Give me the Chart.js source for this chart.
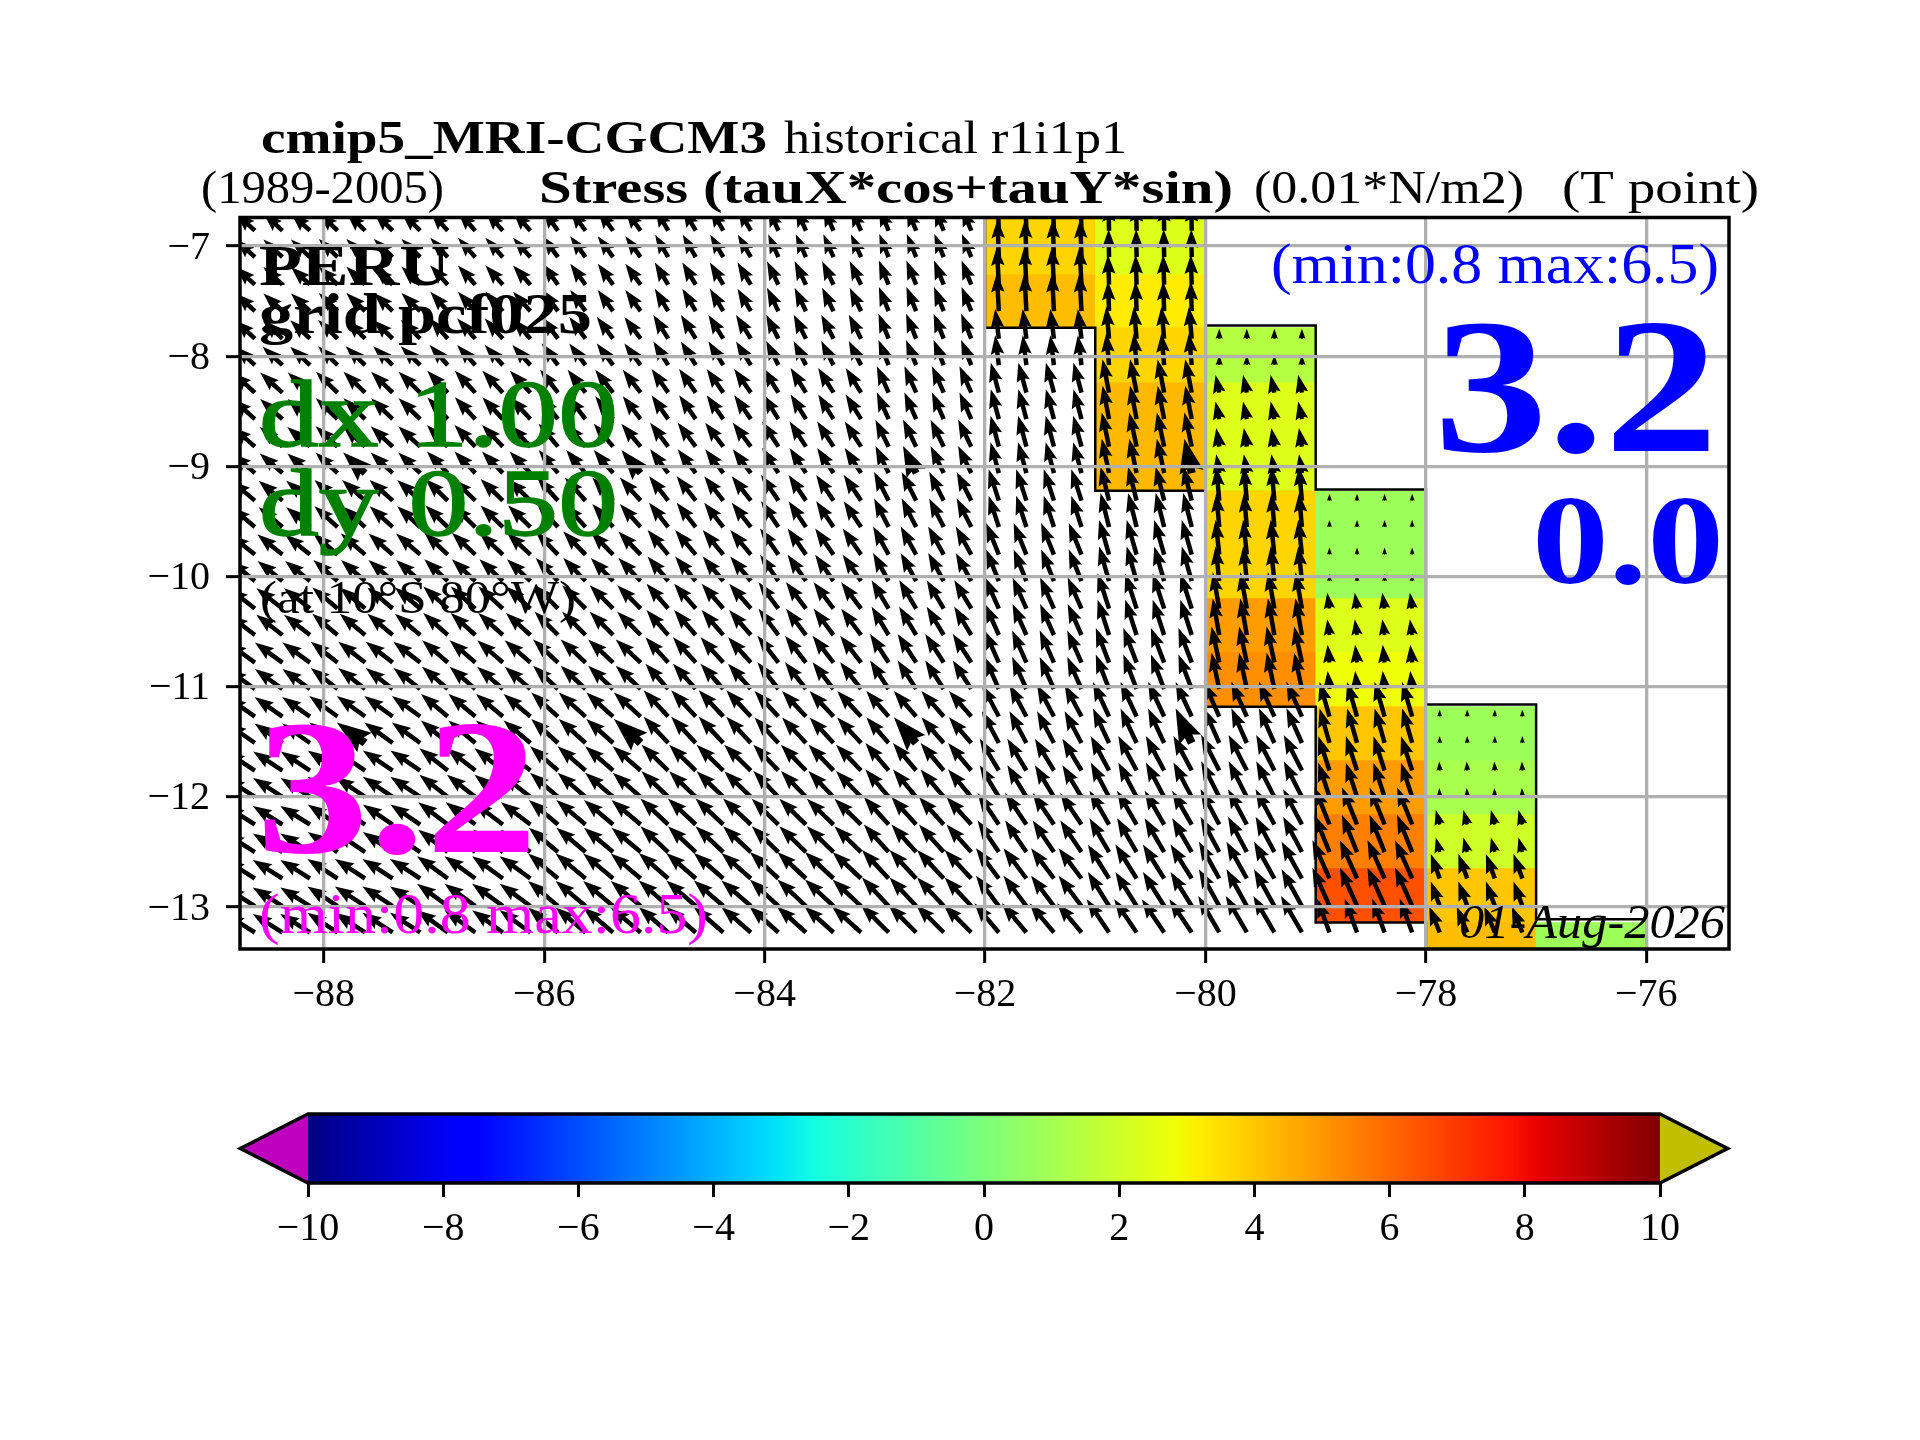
<!DOCTYPE html>
<html>
<head>
<meta charset="utf-8">
<title>Stress PERU</title>
<script src="https://cdn.jsdelivr.net/npm/chart.js@4"></script>
<style>
  body { margin: 0; background: #fff; }
  canvas { position: absolute; left: 0; top: 0; }
</style>
</head>
<body>
<canvas id="mapChart" width="1920" height="1440"></canvas>
<canvas id="barChart" width="1920" height="1440"></canvas>
<script>
// model cells: 1 deg wide, about 0.5 deg high
const lonEdges = [-89, -88, -87, -86, -85, -84, -83, -82, -81, -80, -79, -78, -77, -76];
const latEdges = [-6.7, -7.26, -7.74, -8.24, -8.73, -9.22, -9.71, -10.2, -10.69, -11.18, -11.67, -12.16, -12.65, -13.14, -13.63];

// coloured cells, read against the colour bar (rows north to south, columns west to east)
const n = null;
const cellValues = [
  [n, n, n, n, n, n, n, 3.7, 2.4, n, n, n, n],
  [n, n, n, n, n, n, n, 4.2, 3.2, n, n, n, n],
  [n, n, n, n, n, n, n, n, 3.7, 1.4, n, n, n],
  [n, n, n, n, n, n, n, n, 4.3, 2.4, n, n, n],
  [n, n, n, n, n, n, n, n, 4.3, 2.4, n, n, n],
  [n, n, n, n, n, n, n, n, n, 3.7, 0.8, n, n],
  [n, n, n, n, n, n, n, n, n, 3.7, 0.8, n, n],
  [n, n, n, n, n, n, n, n, n, 4.9, 2.4, n, n],
  [n, n, n, n, n, n, n, n, n, 5.2, 2.8, n, n],
  [n, n, n, n, n, n, n, n, n, n, 4.0, 0.8, n],
  [n, n, n, n, n, n, n, n, n, n, 4.9, 1.1, n],
  [n, n, n, n, n, n, n, n, n, n, 5.5, 2.0, n],
  [n, n, n, n, n, n, n, n, n, n, 6.5, 4.0, n],
  [n, n, n, n, n, n, n, n, n, n, n, 4.2, 0.8]
];

// stress direction, degrees west of north, same layout
const stressTilt = [
  [47, 46, 42, 36, 30, 24, 22, 2, 1, n, n, n, n],
  [47, 46, 42, 36, 31, 26, 22, 3, 2, n, n, n, n],
  [47, 46, 42, 37, 32, 27, 22, 7, 5, 0, n, n, n],
  [48, 46, 43, 38, 35, 32, 24, 15, 11, 12, n, n, n],
  [49, 47, 44, 40, 37, 33, 26, 15, 12, 9, n, n, n],
  [50, 48, 46, 42, 38, 34, 27, 18, 14, 5, 0, n, n],
  [51, 49, 47, 44, 40, 35, 29, 22, 16, 6, 0, n, n],
  [52, 50, 48, 45, 41, 37, 31, 24, 18, 10, 8, n, n],
  [54, 52, 49, 47, 42, 38, 33, 24, 21, 12, 6, n, n],
  [55, 54, 50, 48, 43, 43, 41, 28, 25, 24, 16, 0, n],
  [57, 56, 52, 49, 46, 44, 40, 31, 28, 27, 18, 3, n],
  [58, 56, 53, 50, 47, 46, 42, 34, 30, 28, 22, 15, n],
  [58, 57, 54, 50, 49, 47, 43, 37, 32, 29, 24, 20, n],
  [58, 57, 54, 50, 49, 48, 45, 40, 34, 30, 20, 22, n]
];

// stress magnitude, same layout
const stressMag = [
  [2.6, 2.6, 2.6, 2.6, 2.6, 2.5, 2.5, 3.8, 2.8, n, n, n, n],
  [2.6, 2.6, 2.6, 2.6, 2.6, 2.6, 2.6, 3.8, 3.0, n, n, n, n],
  [2.7, 2.7, 2.7, 2.7, 2.8, 2.7, 2.7, 3.0, 3.2, 1.0, n, n, n],
  [3.0, 3.0, 3.0, 2.9, 2.9, 2.9, 2.9, 3.1, 3.4, 1.8, n, n, n],
  [3.0, 3.0, 3.0, 3.0, 3.0, 3.0, 3.0, 3.2, 3.5, 1.9, n, n, n],
  [3.1, 3.1, 3.1, 3.1, 3.1, 3.1, 3.2, 3.3, 3.5, 3.4, 0.7, n, n],
  [3.2, 3.2, 3.2, 3.2, 3.2, 3.2, 3.2, 3.4, 3.6, 3.5, 0.7, n, n],
  [3.3, 3.3, 3.3, 3.3, 3.3, 3.3, 3.3, 3.4, 3.7, 3.7, 1.6, n, n],
  [3.4, 3.4, 3.4, 3.4, 3.4, 3.4, 3.4, 3.5, 3.7, 3.7, 1.8, n, n],
  [3.4, 3.5, 3.5, 3.6, 3.6, 3.5, 3.4, 3.6, 3.8, 3.8, 3.6, 0.7, n],
  [3.5, 3.6, 3.6, 3.7, 3.7, 3.6, 3.6, 3.7, 3.9, 4.0, 3.6, 0.9, n],
  [3.5, 3.6, 3.7, 3.8, 3.8, 3.7, 3.7, 3.8, 3.9, 4.0, 4.0, 1.5, n],
  [3.5, 3.6, 3.8, 3.9, 3.9, 3.9, 3.9, 3.8, 4.0, 4.2, 4.2, 2.6, n],
  [3.5, 3.6, 3.8, 3.9, 3.9, 3.9, 3.9, 3.8, 4.0, 4.2, 3.6, 2.8, n]
];

// arrows: two rows per cell, four columns per cell
const arrowLats = [-6.86, -7.10, -7.35, -7.59, -7.84, -8.08, -8.33, -8.57, -8.82, -9.06, -9.31, -9.55, -9.80, -10.04,
  -10.29, -10.53, -10.78, -11.02, -11.27, -11.51, -11.76, -12.00, -12.25, -12.50, -12.74, -12.99, -13.23];
const arrowOffsets = [0.125, 0.375, 0.625, 0.875];
// these ones are drawn heavier in the original
const heavyLats = [-9.06, -11.51];
const heavyLons = [-87.625, -85.125, -82.625, -80.125];

// stair-step outline of the land mask
const coastWest = [[-82, -6.7], [-82, -7.74], [-81, -7.74], [-81, -9.22], [-80, -9.22], [-80, -11.18], [-79, -11.18], [-79, -13.14], [-78, -13.14], [-78, -13.5]];
const coastEast = [[-80, -6.7], [-80, -7.72], [-79, -7.72], [-79, -9.21], [-78, -9.21], [-78, -11.16], [-77, -11.16], [-77, -13.11], [-76, -13.11], [-76, -13.5]];

const barTicks = [-10, -8, -6, -4, -2, 0, 2, 4, 6, 8, 10];

// jet colormap stops
const jetRed = [[0, 0], [0.35, 0], [0.66, 1], [0.89, 1], [1, 0.5]];
const jetGreen = [[0, 0], [0.125, 0], [0.375, 1], [0.64, 1], [0.91, 0], [1, 0]];
const jetBlue = [[0, 0.5], [0.11, 1], [0.34, 1], [0.65, 0], [1, 0]];
const jetStops = [0, 0.11, 0.125, 0.34, 0.35, 0.375, 0.64, 0.65, 0.66, 0.89, 0.91, 1];

const serif = '"Liberation Serif"';
const lineGray = '#b0b0b0';

function channel(stops, t) {
  for (let i = 1; i < stops.length; i++) {
    if (t <= stops[i][0]) {
      const f = (t - stops[i - 1][0]) / (stops[i][0] - stops[i - 1][0]);
      return stops[i - 1][1] + f * (stops[i][1] - stops[i - 1][1]);
    }
  }
  return stops[stops.length - 1][1];
}

function jet(t) {
  const c = [jetRed, jetGreen, jetBlue].map(s => Math.round(255 * channel(s, t)));
  return 'rgb(' + c.join(',') + ')';
}

function minusLabel(v) {
  return v < 0 ? '\u2212' + Math.abs(v) : String(v);
}

// coloured cells as floating bars
const cellBars = [];
const cellColors = [];
cellValues.forEach((row, r) => row.forEach((v, c) => {
  if (v === null) return;
  cellBars.push({ x: lonEdges[c] + 0.5, y: [latEdges[r + 1], latEdges[r]] });
  cellColors.push(jet((v + 10) / 20));
}));

const arrowPoints = [];
arrowLats.forEach((lat, k) => {
  const r = Math.floor(k / 2);
  stressTilt[r].forEach((tilt, c) => {
    if (tilt === null) return;
    arrowOffsets.forEach(off => {
      const lon = lonEdges[c] + off;
      arrowPoints.push({
        x: lon, y: lat, tilt: tilt, mag: stressMag[r][c],
        heavy: heavyLats.includes(lat) && heavyLons.includes(lon)
      });
    });
  });
});

const coastPoints = coastWest.concat([[null, null]], coastEast).map(p => ({ x: p[0], y: p[1] }));

// quiver marks, tail on the data point
const pxPerUnit = 10;
function drawArrow(ctx, x, y, tilt, mag, heavy) {
  const L = mag * pxPerUnit;
  const k = heavy ? 1.8 : 1;
  const s = Math.min(1, L / (19 * k));
  const headLen = 19 * k * s, axisLen = 17 * k * s, headW = 13.5 * k * s, shaftW = 4.5 * k * s;
  const a = tilt * Math.PI / 180;
  ctx.save();
  ctx.translate(x, y);
  ctx.rotate(-a);
  ctx.beginPath();
  ctx.moveTo(-shaftW / 2, 0);
  ctx.lineTo(-shaftW / 2, -(L - axisLen));
  ctx.lineTo(-headW / 2, -(L - headLen));
  ctx.lineTo(0, -L);
  ctx.lineTo(headW / 2, -(L - headLen));
  ctx.lineTo(shaftW / 2, -(L - axisLen));
  ctx.lineTo(shaftW / 2, 0);
  ctx.closePath();
  ctx.fill();
  ctx.restore();
}

const quiverPlugin = {
  id: 'quiver',
  afterDatasetsDraw(chart) {
    const ctx = chart.ctx, area = chart.chartArea;
    const idx = chart.data.datasets.findIndex(d => d.label === 'stress');
    const meta = chart.getDatasetMeta(idx);
    const pts = chart.data.datasets[idx].data;
    ctx.save();
    ctx.beginPath();
    ctx.rect(area.left, area.top, area.right - area.left, area.bottom - area.top);
    ctx.clip();
    ctx.fillStyle = '#000';
    meta.data.forEach((el, i) => drawArrow(ctx, el.x, el.y, pts[i].tilt, pts[i].mag, pts[i].heavy));
    ctx.restore();
  }
};

// text fitted between a left and right edge, serif metrics differ from the original face
function putText(ctx, str, font, color, left, right, base, stroke) {
  ctx.save();
  ctx.font = font;
  ctx.fillStyle = color;
  ctx.textAlign = 'left';
  ctx.textBaseline = 'alphabetic';
  const w = ctx.measureText(str).width;
  ctx.translate(left, base);
  ctx.scale((right - left) / w, 1);
  ctx.fillText(str, 0, 0);
  if (stroke) {
    ctx.strokeStyle = color;
    ctx.lineWidth = stroke;
    ctx.strokeText(str, 0, 0);
  }
  ctx.restore();
}

const annotations = [
  ['cmip5_MRI-CGCM3', 'bold 46px', '#000', 261, 767, 153],
  ['historical r1i1p1', '46px', '#000', 784, 1127, 153],
  ['(1989-2005)', '46px', '#000', 201, 444, 203],
  ['Stress (tauX*cos+tauY*sin)', 'bold 46px', '#000', 539, 1233, 203],
  ['(0.01*N/m2)', '46px', '#000', 1254, 1524, 203],
  ['(T point)', '46px', '#000', 1562, 1759, 203],
  ['PERU', 'bold 58px', '#000', 259, 450, 285],
  ['grid pcf025', 'bold 58px', '#000', 259, 592, 333],
  ['dx 1.00', '95px', '#008000', 259, 618, 446, 1.5],
  ['dy 0.50', '95px', '#008000', 259, 618, 535, 1.5],
  ['(at 10\u00b0S 80\u00b0W)', '47px', '#000', 260, 576, 613],
  ['3.2', 'bold 192px', '#ff00ff', 256, 538, 852],
  ['(min:0.8 max:6.5)', '57px', '#ff00ff', 259, 708, 933],
  ['(min:0.8 max:6.5)', '57px', '#0000ff', 1271, 1719, 283],
  ['3.2', 'bold 192px', '#0000ff', 1434, 1718, 451],
  ['0.0', 'bold 127px', '#0000ff', 1532, 1724, 583],
  ['01-Aug-2026', 'italic 48px', '#000', 1459, 1725, 938]
];

const framePlugin = {
  id: 'frame',
  afterDraw(chart) {
    const ctx = chart.ctx, area = chart.chartArea;
    ctx.save();
    ctx.strokeStyle = '#000';
    ctx.lineWidth = 3.5;
    ctx.strokeRect(area.left, area.top, area.right - area.left, area.bottom - area.top);
    ctx.restore();
    annotations.forEach(a => putText(ctx, a[0], a[1] + ' ' + serif, a[2], a[3], a[4], a[5], a[6]));
  }
};

new Chart(document.getElementById('mapChart'), {
  type: 'scatter',
  data: {
    datasets: [
      {
        type: 'bar', label: 'cells', data: cellBars, backgroundColor: cellColors,
        borderWidth: 0, barPercentage: 1, categoryPercentage: 1, order: 3
      },
      {
        type: 'scatter', label: 'coast', data: coastPoints, showLine: true, spanGaps: false,
        borderColor: '#000', borderWidth: 2.5, pointRadius: 0, order: 2
      },
      { type: 'scatter', label: 'stress', data: arrowPoints, pointRadius: 0, order: 1 }
    ]
  },
  options: {
    responsive: false,
    devicePixelRatio: 1,
    animation: false,
    events: [],
    layout: { padding: { top: 217.5, right: 191, left: 0, bottom: 0 } },
    plugins: { legend: { display: false }, tooltip: { enabled: false } },
    scales: {
      x: {
        type: 'linear', min: -88.76, max: -75.25, offset: false,
        afterFit: s => { s.height = 491; },
        border: { display: false },
        grid: { offset: false, z: 1, color: lineGray, lineWidth: 3.3, tickColor: '#000', tickWidth: 3, tickLength: 14 },
        ticks: {
          stepSize: 2, includeBounds: false, autoSkip: false, maxRotation: 0, padding: 8, color: '#000',
          font: { family: serif, size: 40 }, callback: minusLabel
        }
      },
      y: {
        type: 'linear', min: -13.38, max: -6.74,
        afterFit: s => { s.width = 240; },
        border: { display: false },
        grid: { z: 1, color: lineGray, lineWidth: 3.3, tickColor: '#000', tickWidth: 3, tickLength: 14 },
        ticks: {
          stepSize: 1, includeBounds: false, autoSkip: false, padding: 16, labelOffset: 2, color: '#000',
          font: { family: serif, size: 40 }, callback: minusLabel
        }
      }
    }
  },
  plugins: [quiverPlugin, framePlugin]
});

// colour bar with its two extension triangles
const colorBarPlugin = {
  id: 'colorBar',
  beforeDatasetsDraw(chart) {
    const ctx = chart.ctx, area = chart.chartArea, sx = chart.scales.x;
    const mid = (area.top + area.bottom) / 2;
    const tipL = sx.getPixelForValue(-11), tipR = sx.getPixelForValue(11);
    const grad = ctx.createLinearGradient(area.left, 0, area.right, 0);
    jetStops.forEach(t => grad.addColorStop(t, jet(t)));
    ctx.save();
    ctx.fillStyle = grad;
    ctx.fillRect(area.left, area.top, area.right - area.left, area.bottom - area.top);
    ctx.fillStyle = '#bf00bf';
    ctx.beginPath();
    ctx.moveTo(area.left, area.top);
    ctx.lineTo(tipL, mid);
    ctx.lineTo(area.left, area.bottom);
    ctx.closePath();
    ctx.fill();
    ctx.fillStyle = '#bfbf00';
    ctx.beginPath();
    ctx.moveTo(area.right, area.top);
    ctx.lineTo(tipR, mid);
    ctx.lineTo(area.right, area.bottom);
    ctx.closePath();
    ctx.fill();
    ctx.strokeStyle = '#000';
    ctx.lineWidth = 3.5;
    ctx.lineJoin = 'miter';
    ctx.beginPath();
    ctx.moveTo(area.left, area.top);
    ctx.lineTo(area.right, area.top);
    ctx.lineTo(tipR, mid);
    ctx.lineTo(area.right, area.bottom);
    ctx.lineTo(area.left, area.bottom);
    ctx.lineTo(tipL, mid);
    ctx.closePath();
    ctx.stroke();
    ctx.restore();
  }
};

new Chart(document.getElementById('barChart'), {
  type: 'scatter',
  data: { datasets: [{ label: 'levels', data: barTicks.map(v => ({ x: v, y: 0 })), pointRadius: 0 }] },
  options: {
    responsive: false,
    devicePixelRatio: 1,
    animation: false,
    events: [],
    layout: { padding: { top: 1114, right: 260, left: 0, bottom: 0 } },
    plugins: { legend: { display: false }, tooltip: { enabled: false } },
    scales: {
      x: {
        type: 'linear', min: -10, max: 10,
        afterFit: s => { s.height = 257; },
        border: { display: false },
        grid: { drawOnChartArea: false, tickColor: '#000', tickWidth: 3, tickLength: 14 },
        ticks: {
          stepSize: 2, autoSkip: false, maxRotation: 0, padding: 8, color: '#000',
          font: { family: serif, size: 40 }, callback: minusLabel
        }
      },
      y: {
        type: 'linear', min: -1, max: 1,
        afterFit: s => { s.width = 308; },
        border: { display: false },
        grid: { display: false },
        ticks: { display: false }
      }
    }
  },
  plugins: [colorBarPlugin]
});
</script>
</body>
</html>
